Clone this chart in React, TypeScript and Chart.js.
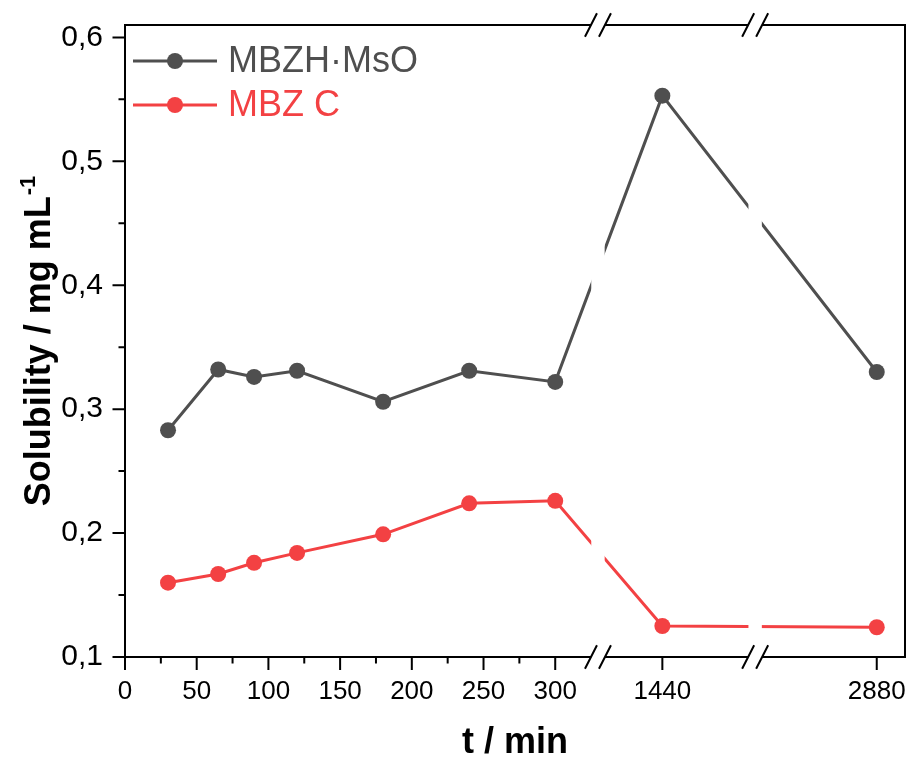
import React, { useEffect, useRef } from 'react';
import { Chart, registerables, LinearScale } from 'chart.js';

Chart.register(...registerables);

// ---- data ----
const TIMES = [30, 65, 90, 120, 180, 240, 300, 1440, 2880];
const MBZH_MSO = [0.283, 0.332, 0.326, 0.331, 0.306, 0.331, 0.322, 0.553, 0.330];
const MBZ_C = [0.160, 0.167, 0.176, 0.184, 0.199, 0.224, 0.226, 0.125, 0.124];
const SERIES_LABELS = ['MBZH·MsO', 'MBZ C'];
const X_TICKS = [0, 50, 100, 150, 200, 250, 300, 1440, 2880];
const X_MINOR_TICKS = [25, 75, 125, 175, 225, 275];
const Y_TICKS = [0.1, 0.2, 0.3, 0.4, 0.5, 0.6];
const Y_MINOR_TICKS = [0.15, 0.25, 0.35, 0.45, 0.55];
const X_TITLE = 't / min';
const Y_TITLE = 'Solubility / mg mL';
const Y_TITLE_SUP = '-1';

// ---- broken x-axis configuration (value -> axis length units) ----
const X_KNOTS_VALUE = [0, 330, 1440, 2880, 3000];
const X_KNOTS_AXIS = [0, 330, 374.7, 524.2, 543.9];
const X_BREAKS_AXIS = [329.8, 439.4];
const AXIS_MAX = X_KNOTS_AXIS[X_KNOTS_AXIS.length - 1];

function toAxis(v: number): number {
  const kv = X_KNOTS_VALUE, ka = X_KNOTS_AXIS;
  if (v <= kv[0]) return ka[0];
  for (let i = 1; i < kv.length; i++) {
    if (v <= kv[i]) {
      const f = (v - kv[i - 1]) / (kv[i] - kv[i - 1]);
      return ka[i - 1] + f * (ka[i] - ka[i - 1]);
    }
  }
  return ka[ka.length - 1];
}

class BrokenLinearScale extends (LinearScale as any) {
  static id = 'brokenLinear';
  static defaults = (LinearScale as any).defaults;
  getPixelForValue(value: number) {
    return (this as any).getPixelForDecimal(toAxis(value) / AXIS_MAX);
  }
}
Chart.register(BrokenLinearScale as any);

const GRAY = '#4f4f4f';
const RED = '#f34143';
const FONT = '"Liberation Sans", Arial, sans-serif';

const decorPlugin = {
  id: 'decor',
  afterDatasetsDraw(chart: any) {
    const { ctx, chartArea: ca, scales } = chart;
    ctx.save();
    ctx.fillStyle = '#ffffff';
    for (const b of X_BREAKS_AXIS) {
      const px = scales.x.getPixelForDecimal(b / AXIS_MAX);
      ctx.fillRect(px - 6.7, ca.top + 2, 13.4, ca.bottom - ca.top - 4);
    }
    ctx.restore();
  },
  afterDraw(chart: any) {
    const { ctx, chartArea: ca, scales } = chart;
    const xs = scales.x, ys = scales.y;
    const L = ca.left, R = ca.right, T = ca.top, B = ca.bottom;
    ctx.save();
    ctx.strokeStyle = '#000';
    ctx.lineWidth = 2;
    ctx.lineCap = 'butt';
    const breaks = X_BREAKS_AXIS.map((b) => xs.getPixelForDecimal(b / AXIS_MAX));
    const gap = 7;
    ctx.beginPath();
    ctx.moveTo(L, T - 1); ctx.lineTo(L, B + 1);
    ctx.moveTo(R, T - 1); ctx.lineTo(R, B + 1);
    ctx.stroke();
    for (const yy of [T, B]) {
      const xsSeg = [L, ...breaks.flatMap((c) => [c - gap, c + gap]), R];
      ctx.beginPath();
      for (let i = 0; i < xsSeg.length; i += 2) {
        ctx.moveTo(xsSeg[i], yy); ctx.lineTo(xsSeg[i + 1], yy);
      }
      ctx.stroke();
      ctx.beginPath();
      for (const c of breaks) {
        for (const s of [-gap, gap]) {
          ctx.moveTo(c + s - 6, yy + 11.7);
          ctx.lineTo(c + s + 6, yy - 11.7);
        }
      }
      ctx.stroke();
    }
    ctx.beginPath();
    for (const v of X_TICKS) {
      const px = xs.getPixelForValue(v);
      ctx.moveTo(px, B); ctx.lineTo(px, B + 13);
    }
    for (const v of X_MINOR_TICKS) {
      const px = xs.getPixelForValue(v);
      ctx.moveTo(px, B); ctx.lineTo(px, B + 6.5);
    }
    for (const v of Y_TICKS) {
      const py = ys.getPixelForValue(v);
      ctx.moveTo(L, py); ctx.lineTo(L - 12.5, py);
    }
    for (const v of Y_MINOR_TICKS) {
      const py = ys.getPixelForValue(v);
      ctx.moveTo(L, py); ctx.lineTo(L - 6.5, py);
    }
    ctx.stroke();

    // axis titles
    ctx.fillStyle = '#000';
    ctx.font = `bold 36px ${FONT}`;
    ctx.textAlign = 'center';
    ctx.textBaseline = 'alphabetic';
    ctx.fillText(X_TITLE, (L + R) / 2, 753);

    ctx.save();
    const mainW = ctx.measureText(Y_TITLE).width;
    ctx.font = `bold 22px ${FONT}`;
    const supW = ctx.measureText(Y_TITLE_SUP).width;
    const total = mainW + supW + 1;
    ctx.translate(50, (T + B) / 2);
    ctx.rotate(-Math.PI / 2);
    ctx.textAlign = 'left';
    ctx.font = `bold 36px ${FONT}`;
    ctx.fillText(Y_TITLE, -total / 2, 0);
    ctx.font = `bold 22px ${FONT}`;
    ctx.fillText(Y_TITLE_SUP, -total / 2 + mainW + 1, -15);
    ctx.restore();

    // legend
    const colors = [GRAY, RED];
    const rows = [61, 105];
    ctx.font = `36px ${FONT}`;
    ctx.textAlign = 'left';
    ctx.textBaseline = 'middle';
    SERIES_LABELS.forEach((lab, i) => {
      const y = rows[i];
      ctx.strokeStyle = colors[i];
      ctx.lineWidth = 3;
      ctx.beginPath();
      ctx.moveTo(133, y); ctx.lineTo(217, y);
      ctx.stroke();
      ctx.fillStyle = colors[i];
      ctx.beginPath();
      ctx.arc(175, y, 8, 0, Math.PI * 2);
      ctx.fill();
      ctx.fillText(lab, 228, y + 1);
    });
    ctx.restore();
  },
};

const zeroPad = (s: any) => {
  s.paddingTop = 0;
  s.paddingBottom = 0;
  s.paddingLeft = 0;
  s.paddingRight = 0;
};

export default function App() {
  const canvasRef = useRef<HTMLCanvasElement | null>(null);

  useEffect(() => {
    document.body.style.margin = '0';
    const canvas = canvasRef.current;
    if (!canvas) return;
    const mk = (vals: number[]) => TIMES.map((t, i) => ({ x: t, y: vals[i] }));
    const ds = (label: string, vals: number[], color: string) => ({
      label,
      data: mk(vals),
      borderColor: color,
      backgroundColor: color,
      pointBackgroundColor: color,
      borderWidth: 3,
      pointRadius: 8,
      pointHoverRadius: 8,
      pointBorderWidth: 0,
      tension: 0,
      clip: false as any,
    });
    const chart = new Chart(canvas, {
      type: 'line',
      data: {
        datasets: [ds(SERIES_LABELS[0], MBZH_MSO, GRAY), ds(SERIES_LABELS[1], MBZ_C, RED)],
      },
      options: {
        responsive: false,
        animation: false,
        devicePixelRatio: 1,
        events: [],
        layout: { padding: { top: 25, right: 7, left: 0, bottom: 0 } },
        plugins: { legend: { display: false }, tooltip: { enabled: false } },
        scales: {
          x: {
            type: 'brokenLinear' as any,
            min: 0,
            max: 3000,
            grid: { display: false, drawTicks: false },
            border: { display: false },
            ticks: {
              autoSkip: false,
              maxRotation: 0,
              padding: 19,
              color: '#000',
              font: { family: FONT, size: 26 },
              callback: (v: any) => String(v),
            },
            afterBuildTicks: (s: any) => {
              s.ticks = X_TICKS.map((v) => ({ value: v }));
            },
            afterFit: (s: any) => {
              s.height = 101;
              zeroPad(s);
            },
          } as any,
          y: {
            type: 'linear',
            min: 0.1,
            max: 0.61,
            grid: { display: false, drawTicks: false },
            border: { display: false },
            ticks: {
              padding: 22,
              color: '#000',
              font: { family: FONT, size: 30 },
              callback: (v: any) => Number(v).toFixed(1).replace('.', ','),
            },
            afterBuildTicks: (s: any) => {
              s.ticks = Y_TICKS.map((v) => ({ value: v }));
            },
            afterFit: (s: any) => {
              s.width = 125;
              zeroPad(s);
            },
          },
        },
      },
      plugins: [decorPlugin],
    });
    return () => chart.destroy();
  }, []);

  return (
    <div style={{ position: 'fixed', left: 0, top: 0, width: 913, height: 758, background: '#fff' }}>
      <canvas ref={canvasRef} width={913} height={758} />
    </div>
  );
}
